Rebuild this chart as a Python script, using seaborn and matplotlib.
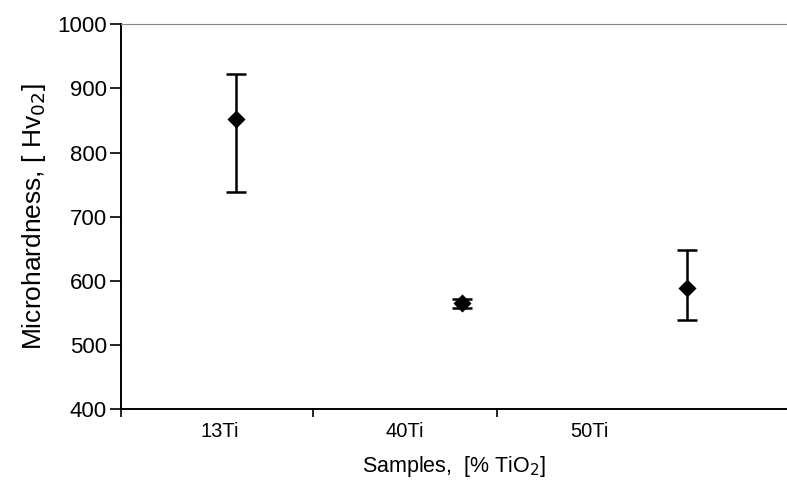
import matplotlib.pyplot as plt
import seaborn as sns
import pandas as pd
import numpy as np
from matplotlib.ticker import FixedLocator

# values
samples = ["13Ti", "40Ti", "50Ti"]
hardness = [853, 565, 589]
upper = [922, 572, 648]
lower = [738, 558, 539]


def main():
    sns.set_style("white")
    plt.rcParams["font.family"] = ["Liberation Sans", "DejaVu Sans"]
    plt.rcParams["text.color"] = "black"
    plt.rcParams["axes.labelcolor"] = "black"
    plt.rcParams["xtick.color"] = "black"
    plt.rcParams["ytick.color"] = "black"

    df = pd.DataFrame({"pos": np.arange(len(samples)), "Sample": samples,
                       "Hv": hardness, "hi": upper, "lo": lower})

    fig = plt.figure(figsize=(7.87, 4.83), dpi=100)
    ax = fig.add_axes([0.1537, 0.1532, 0.8463, 0.7965])

    yerr = [df["Hv"] - df["lo"], df["hi"] - df["Hv"]]
    ax.errorbar(df["pos"], df["Hv"], yerr=yerr, fmt="none", ecolor="black",
                elinewidth=1.8, capsize=7, capthick=1.8, zorder=2)
    sns.scatterplot(data=df, x="pos", y="Hv", marker="D", s=85, color="black",
                    edgecolor="black", linewidth=0, ax=ax, zorder=3)

    ax.set_ylim(400, 1000)
    ax.set_xlim(-0.51, 2.443)
    ax.set_yticks(range(400, 1001, 100))

    # labels sit between the category ticks, as in the original
    ax.xaxis.set_major_locator(FixedLocator([-0.071, 0.749, 1.569]))
    ax.set_xticklabels(samples)
    ax.xaxis.set_minor_locator(FixedLocator([-0.51, 0.341, 1.157]))
    ax.tick_params(axis="x", which="major", length=0, pad=9, labelsize=14.5)
    ax.tick_params(axis="x", which="minor", length=6, width=1.2, direction="out",
                   bottom=True)
    ax.tick_params(axis="y", length=8, width=1.2, direction="out", left=True,
                   pad=2, labelsize=16)

    for side in ["left", "bottom"]:
        ax.spines[side].set_color("black")
        ax.spines[side].set_linewidth(1.4)
    ax.spines["top"].set_color("#888888")
    ax.spines["top"].set_linewidth(0.8)
    ax.spines["right"].set_visible(False)

    ax.set_ylabel("Microhardness, [ Hv$_{02}$]", fontsize=19, labelpad=7)
    ax.set_xlabel("Samples,  [% TiO$_2$]", fontsize=15.5, labelpad=10)

    plt.savefig("out.png", dpi=100)


if __name__ == "__main__":
    main()
